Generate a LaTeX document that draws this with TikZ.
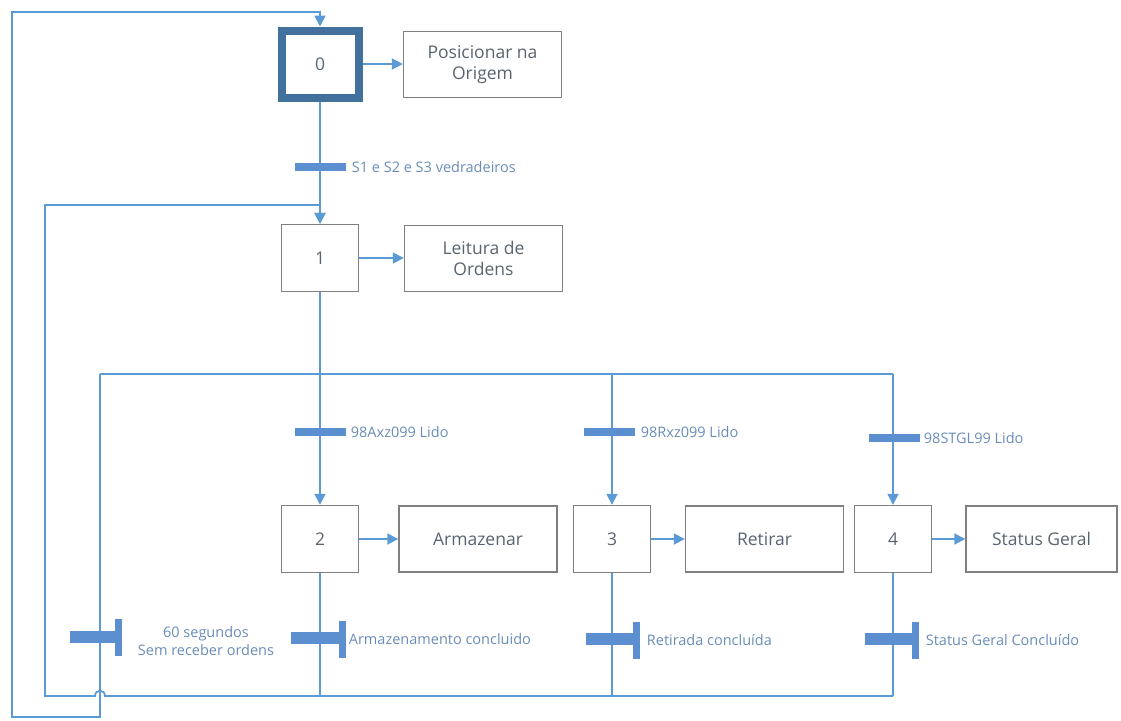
\documentclass[tikz,border=0pt]{standalone}
\usepackage{fontspec}
\setmainfont{Open Sans}
\usetikzlibrary{arrows.meta}
\usetikzlibrary{positioning}

\definecolor{clinha}{HTML}{5B9BD5}
\definecolor{cborda}{HTML}{808080}
\definecolor{cinicial}{HTML}{41719C}
\definecolor{cbarra}{HTML}{5B8FCF}
\definecolor{crotulo}{HTML}{6A8CB8}
\definecolor{ctexto}{HTML}{5A6470}

\begin{document}
\begin{tikzpicture}[x=1pt, y=-1pt,
    every node/.style={font=\fontsize{17.5}{21}\selectfont, text=ctexto},
    etapa/.style={rectangle, draw=cborda, line width=1.4pt, minimum width=77pt, minimum height=67pt, inner sep=0pt},
    inicial/.style={etapa, draw=cinicial, line width=8pt},
    acao/.style={rectangle, draw=cborda, line width=1.4pt, minimum width=158pt, minimum height=66pt, align=center, inner sep=0pt},
    fluxo/.style={draw=clinha, line width=1.8pt, -{Triangle[length=11pt,width=11pt]}},
    liga/.style={draw=clinha, line width=1.6pt},
    barra/.style={rectangle, fill=cbarra, inner sep=0pt, minimum width=51pt, minimum height=8pt},
    barrafim/.style={barra, minimum width=50pt, minimum height=12pt},
    traco/.style={barra, minimum width=7pt, minimum height=37pt},
    rotulo/.style={font=\fontsize{14.5}{18}\selectfont, text=crotulo, inner sep=1pt, anchor=west}]
        \useasboundingbox (0,0) rectangle (1121,720);

        % etapas
        \node[inicial] (e0) at (320,64) {0};
        \node[etapa] (e1) at (320,258) {1};
        \node[etapa] (e2) at (320,539) {2};
        \node[etapa] (e3) at (612,539) {3};
        \node[etapa] (e4) at (893,539) {4};

        % acoes
        \node[acao] (a0) at (482.5,64.5) {Posicionar na\\Origem};
        \node[acao] (a1) at (483.5,258.5) {Leitura de\\Ordens};
        \node[acao] (a2) at (478,539) {Armazenar};
        \node[acao] (a3) at (764.5,539) {Retirar};
        \node[acao, minimum width=151pt] (a4) at (1041.5,539) {Status Geral};

        \draw[fluxo] (e0.east) -- (e0.east -| a0.west);
        \draw[fluxo] (e1.east) -- (e1.east -| a1.west);
        \draw[fluxo] (e2) -- (a2);
        \draw[fluxo] (e3) -- (a3);
        \draw[fluxo] (e4) -- (a4);

        % pontos das ligacoes
        \coordinate (d0) at (100,374);
        \coordinate (d3) at (893,374);
        \coordinate (c0) at (45,696);
        \coordinate (c1) at (45,205);
        \coordinate (b0) at (100,717);
        \coordinate (b1) at (12,717);
        \coordinate (b2) at (12,12);

        \draw[fluxo] (e0.south) -- (e1.north);
        \draw[liga] (e1.south) -- (e1.south |- d0);
        \draw[liga] (d0) -- (d3);
        \draw[fluxo] (e1.south |- d0) -- (e2.north);
        \draw[fluxo] (e3.north |- d0) -- (e3.north);
        \draw[fluxo] (d3) -- (e4.north);

        \draw[liga] (e2.south) -- (e2.south |- c0);
        \draw[liga] (e3.south) -- (e3.south |- c0);
        \draw[liga] (e4.south) -- (e4.south |- c0);
        \draw[fluxo] (e4.south |- c0) -- (105,696)
            .. controls (105,689) and (95,689) .. (95,696)
            -- (c0) -- (c1) -| (e1.north);
        \draw[fluxo] (d0) -- (b0) -- (b1) -- (b2) -| (e0.north);

        % transicoes
        \node[barra] (t01) at (320,167) {};
        \node[rotulo, right=5pt of t01] (l01) {S1 e S2 e S3 vedradeiros};
        \node[barra] (t12) at (320,432) {};
        \node[rotulo, right=4pt of t12] (l12) {98Axz099 Lido};
        \node[barra] (t13) at (609,432) {};
        \node[rotulo, right=5pt of t13] (l13) {98Rxz099 Lido};
        \node[barra] (t14) at (894,438) {};
        \node[rotulo, right=3pt of t14] (l14) {98STGL99 Lido};

        \node[barrafim] (t2) at (316,638) {};
        \node[traco] (t2x) at (342,639) {};
        \node[rotulo, right=2pt of t2x] (l2) {Armazenamento concluido};
        \node[barrafim, minimum width=54pt] (t3) at (613,639) {};
        \node[traco] (t3x) at (636,640) {};
        \node[rotulo, right=6pt of t3x] (l3) {Retirada concluída};
        \node[barrafim, minimum width=53pt] (t4) at (891.5,639) {};
        \node[traco] (t4x) at (915,640) {};
        \node[rotulo, right=6pt of t4x] (l4) {Status Geral Concluído};

        \node[barrafim, minimum width=48pt] (t60) at (94,637) {};
        \node[traco] (t60x) at (118,637) {};
        \node[rotulo, anchor=center, align=center] (l60) at (206,641) {60 segundos\\Sem receber ordens};

    \end{tikzpicture}
\end{document}
